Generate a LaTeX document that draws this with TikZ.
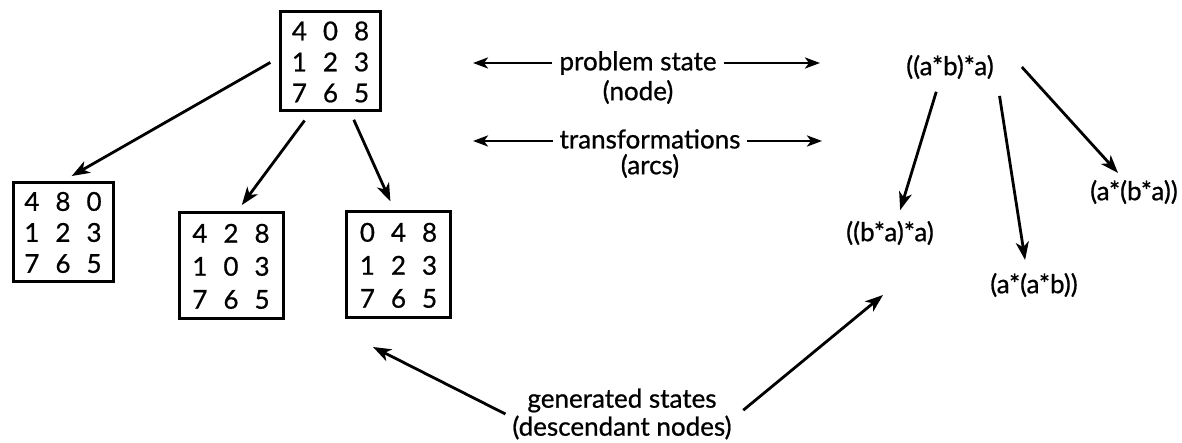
\documentclass[tikz,border=0pt]{standalone}
\usepackage{fontspec}
\setmainfont{Lato}[BoldFont=Lato,BoldFeatures={FakeBold=0.8}]
\usetikzlibrary{arrows.meta,calc,positioning}
\newcommand{\board}[4][15.5pt]{{\fontsize{13}{#1}\selectfont\bfseries
  \raisebox{-1.8pt}[\height][\depth]{\begin{tabular}{@{}c@{\hskip 8pt}c@{\hskip 8pt}c@{}}#2\\#3\\#4\end{tabular}}}}

\begin{document}
\begin{tikzpicture}[x=0.5pt,y=-0.5pt,
  every node/.style={font=\fontsize{13}{14}\selectfont\bfseries},
  state/.style={draw,line width=1.5pt,inner sep=0pt,minimum width=50pt,minimum height=49.5pt},
  bigstate/.style={state,minimum width=52pt,minimum height=52.5pt},
  arc/.style={line width=1.4pt,-{Stealth[length=9pt,width=6.5pt,inset=2.5pt]}},
  tag/.style={line width=1.4pt,-{Stealth[length=7.5pt,width=5.5pt,inset=2pt]}}]
\useasboundingbox (0,0) rectangle (1182,443);
% eight-puzzle
\node [state] (s0) at (330.5,61.5) {\board{4 & 0 & 8}{1 & 2 & 3}{7 & 6 & 5}};
\node [state] (s1) at (63,232) {\board{4 & 8 & 0}{1 & 2 & 3}{7 & 6 & 5}};
\node [bigstate] (s2) at (231,265.5) {\board[16.5pt]{4 & 2 & 8}{1 & 0 & 3}{7 & 6 & 5}};
\node [bigstate] (s3) at (398.5,264.5) {\board[16.5pt]{0 & 4 & 8}{1 & 2 & 3}{7 & 6 & 5}};
\draw [arc,shorten <=5pt,shorten >=5pt] ([yshift=2pt]s0.west) -- (s1.north);
\draw [arc,shorten <=5pt,shorten >=4pt] ([xshift=-10pt]s0.south) -- ([xshift=3pt]s2.north);
\draw [arc,shorten <=4pt,shorten >=5pt] ([xshift=10pt]s0.south) -- ([xshift=-2pt]s3.north);
% expressions
\node (e0) at (950,67) {((a*b)*a)};
\node (e1) at (890,233) {((b*a)*a)};
\node (e2) at (1034,285) {(a*(a*b))};
\node (e3) at (1134,192) {(a*(b*a))};
\draw [arc,shorten <=3pt,shorten >=2pt] ([xshift=-6pt]e0.south) -- ([xshift=4.5pt]e1.north);
\draw [arc,shorten <=5pt,shorten >=3pt] ([xshift=24pt]e0.south) -- ([xshift=-4pt]e2.north);
\draw [arc] ([xshift=10.5pt]e0.east) -- ([xshift=-8pt]e3.north);
% labels in the middle
\node (ps) at (638,63) {problem state};
\node (psn) at (638,92) {(node)};
\coordinate (psL) at (473,63);
\coordinate (psR) at (820,63);
\draw [tag] (ps.west) -- (psL);
\draw [tag] (ps.east) -- (psR);
\node (tr) at (650,139) {transformations};
\node (trn) at (650,166) {(arcs)};
\coordinate (trL) at (473,141);
\coordinate (trR) at (822,141);
\draw [tag] ([yshift=-1pt]tr.west) -- (trL);
\draw [tag] ([yshift=-1pt]tr.east) -- (trR);
\node [align=center] (gen) at (622,414) {generated states\\(descendant nodes)};
\coordinate (genL) at (373,347);
\coordinate (genR) at (883,295);
\draw [arc] (gen.west) -- (genL);
\draw [arc,shorten <=3pt] (gen.east) -- (genR);
\end{tikzpicture}
\end{document}
